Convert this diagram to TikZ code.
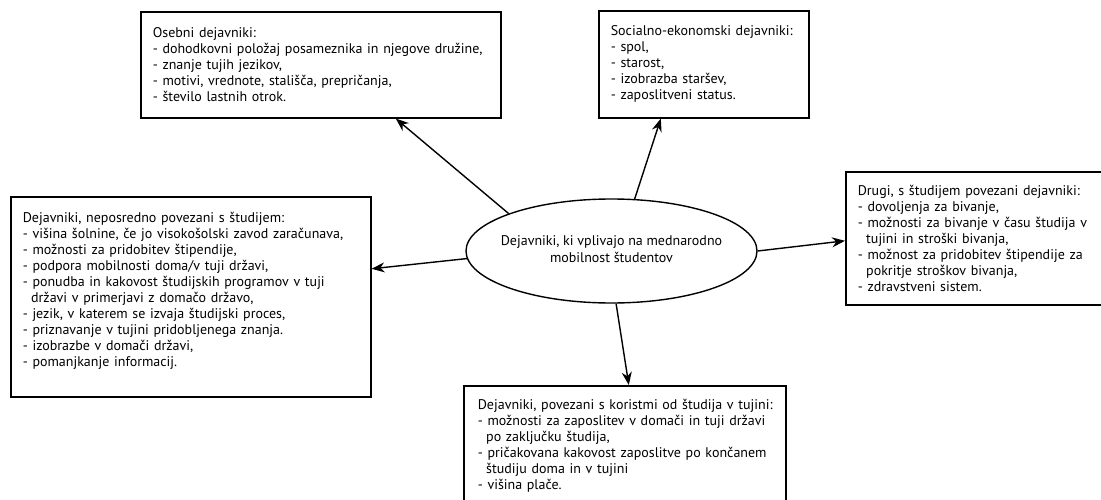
\documentclass[tikz,border=0pt]{standalone}
\usepackage{fontspec}
\setmainfont{PT Sans}
\usetikzlibrary{shapes.geometric,arrows.meta,positioning}

\begin{document}
\begin{tikzpicture}[x=1pt, y=-1pt,
  factor/.style={draw, line width=1.6pt, rectangle, anchor=north west, align=left,
    inner xsep=12pt, inner ysep=0pt, font=\fontsize{14}{16}\selectfont},
  hub/.style={draw, ellipse, line width=1.4pt, inner sep=0pt,
    minimum width=291pt, minimum height=104pt, font=\fontsize{14}{17}\selectfont},
  link/.style={-{Stealth[length=13pt, width=10pt]}, line width=1.4pt}]
\def\ind{\hspace*{0.6em}}

% Page frame
\useasboundingbox (0,0) rectangle (1101,500);

% The centre ellipse
\node[hub] (hub) at (611.5,251) {\makebox[0pt]{\begin{tabular}{@{}c@{}}Dejavniki, ki vplivajo na mednarodno\\mobilnost študentov\end{tabular}}};

% The five groups of factors
\node[factor, text width=336pt, minimum height=106pt] (pers) at (140,11) {Osebni dejavniki:\\
- dohodkovni položaj posameznika in njegove družine,\\
- znanje tujih jezikov,\\
- motivi, vrednote, stališča, prepričanja,\\
- število lastnih otrok.};
\node[factor, text width=186pt, minimum height=107pt] (socio) at (598,10) {Socialno-ekonomski dejavniki:\\
- spol,\\
- starost,\\
- izobrazba staršev,\\
- zaposlitveni status.};
\node[factor, text width=336pt, minimum height=200pt] (study) at (10,196) {Dejavniki, neposredno povezani s študijem:\\
- višina šolnine, če jo visokošolski zavod zaračunava,\\
- možnosti za pridobitev štipendije,\\
- podpora mobilnosti doma/v tuji državi,\\
- ponudba in kakovost študijskih programov v tuji\\
\ind državi v primerjavi z domačo državo,\\
- jezik, v katerem se izvaja študijski proces,\\
- priznavanje v tujini pridobljenega znanja.\\
- izobrazbe v domači državi,\\
- pomanjkanje informacij.\rule[-15pt]{0pt}{1pt}};
\node[factor, text width=237pt, minimum height=133pt] (other) at (845,171) {Drugi, s študijem povezani dejavniki:\\
- dovoljenja za bivanje,\\
- možnosti za bivanje v času študija v\\
\ind tujini in stroški bivanja,\\
- možnost za pridobitev štipendije za\\
\ind pokritje stroškov bivanja,\\
- zdravstveni sistem.};
\node[factor, text width=294pt, minimum height=120pt, inner xsep=14pt] (benefit) at (463,385) {\mbox{Dejavniki, povezani s koristmi od študija v tujini:}\\
- možnosti za zaposlitev v domači in tuji državi\\
\ind po zaključku študija,\\
- pričakovana kakovost zaposlitve po končanem\\
\ind študiju doma in v tujini\\
- višina plače.};

% Arrows out of the ellipse
\draw[link] (hub.160) -- ([xshift=75pt]pers.south);
\draw[link] (hub.66) -- ([xshift=-43pt]socio.south);
\draw[link] (hub.183) -- ([yshift=28pt]study.east);
\draw[link] (hub.0) -- ([yshift=-2.5pt]other.west);
\draw[link] (hub.-85) -- ([xshift=4pt]benefit.north);
\end{tikzpicture}
\end{document}
